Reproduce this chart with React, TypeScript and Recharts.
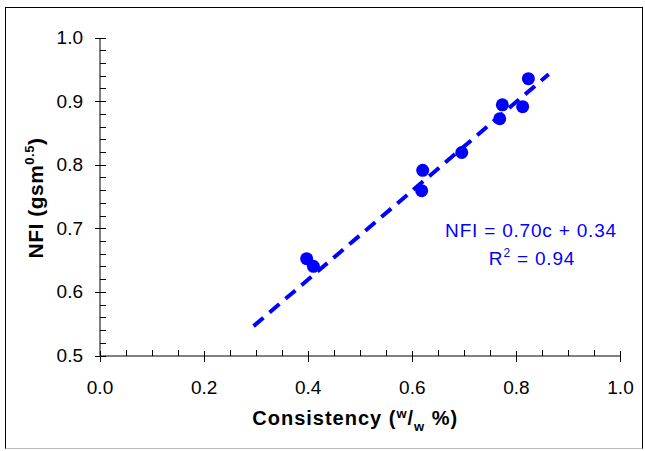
import { ScatterChart, Scatter, XAxis, YAxis, Customized } from "recharts"

// ─── Style ─────────────────────────────────────────────────────────────────────

const FONT = '"Liberation Sans", Arial, Helvetica, sans-serif'
const BLUE = "#0000ff"

// ─── Data ──────────────────────────────────────────────────────────────────────

// consistency (w/w %) and NFI
const CONSISTENCY = [0.397, 0.41, 0.618, 0.62, 0.695, 0.768, 0.773, 0.812, 0.823]
const NFI = [0.653, 0.641, 0.76, 0.792, 0.82, 0.873, 0.895, 0.892, 0.936]

// fitted line ends: NFI = 0.70c + 0.34
const TREND_X = [0.295, 0.862]
const TREND_Y = [0.547, 0.943]

const X_MAJOR = [0, 0.2, 0.4, 0.6, 0.8, 1.0]
const X_TICKS = [
    0, 0.05, 0.1, 0.15, 0.2, 0.25, 0.3, 0.35, 0.4, 0.45, 0.5,
    0.55, 0.6, 0.65, 0.7, 0.75, 0.8, 0.85, 0.9, 0.95, 1.0,
]
const Y_MAJOR = [0.5, 0.6, 0.7, 0.8, 0.9, 1.0]
const Y_TICKS = [
    0.5, 0.52, 0.54, 0.56, 0.58, 0.6, 0.62, 0.64, 0.66, 0.68, 0.7, 0.72, 0.74,
    0.76, 0.78, 0.8, 0.82, 0.84, 0.86, 0.88, 0.9, 0.92, 0.94, 0.96, 0.98, 1.0,
]

const EQUATION = "NFI = 0.70c + 0.34"
const R_SQUARED = "0.94"

const points = CONSISTENCY.map((c, i) => ({ x: c, y: NFI[i] }))
const trend = TREND_X.map((c, i) => ({ x: c, y: TREND_Y[i] }))

// ─── Ticks ─────────────────────────────────────────────────────────────────────

const isMajor = (v: number, majors: number[]) =>
    majors.some((m) => Math.abs(m - v) < 1e-6)

function XTick({ x, y, payload }: any) {
    const v = payload.value as number
    if (!isMajor(v, X_MAJOR)) {
        return <line x1={x} x2={x} y1={y} y2={y - 6} stroke="#000" shapeRendering="crispEdges" />
    }
    return (
        <g>
            <line x1={x} x2={x} y1={y - 5} y2={y + 6} stroke="#000" shapeRendering="crispEdges" />
            <text x={x} y={y + 38} textAnchor="middle" fontSize={19} fontFamily={FONT} fill="#000">
                {v.toFixed(1)}
            </text>
        </g>
    )
}

function YTick({ x, y, payload }: any) {
    const v = payload.value as number
    if (!isMajor(v, Y_MAJOR)) {
        return <line x1={x} x2={x + 6} y1={y} y2={y} stroke="#000" shapeRendering="crispEdges" />
    }
    return (
        <g>
            <line x1={x - 5} x2={x + 6} y1={y} y2={y} stroke="#000" shapeRendering="crispEdges" />
            <text x={x - 17} y={y + 6} textAnchor="end" fontSize={19} fontFamily={FONT} fill="#000">
                {v.toFixed(1)}
            </text>
        </g>
    )
}

// ─── Axis titles ───────────────────────────────────────────────────────────────

function XTitle(props: any) {
    const vb = props.viewBox ?? { x: 100, y: 356, width: 520.5 }
    return (
        <text
            x={vb.x + vb.width / 2 - 5}
            y={vb.y + 69}
            textAnchor="middle"
            fontFamily={FONT}
            fontSize={20}
            fontWeight="bold"
            letterSpacing={1}
            fill="#000"
        >
            Consistency (
            <tspan fontSize={13} dy={-7}>w</tspan>
            <tspan fontSize={20} dy={7}>/</tspan>
            <tspan fontSize={13} dy={6}>w</tspan>
            <tspan fontSize={20} dy={-6}> %)</tspan>
        </text>
    )
}

function YTitle(props: any) {
    const vb = props.viewBox ?? { x: 40, y: 38, height: 318 }
    const cx = vb.x + 3
    const cy = vb.y + vb.height / 2 + 1
    return (
        <text
            x={cx}
            y={cy}
            transform={`rotate(-90 ${cx} ${cy})`}
            textAnchor="middle"
            fontFamily={FONT}
            fontSize={21}
            fontWeight="bold"
            letterSpacing={0.5}
            fill="#000"
        >
            NFI (gsm
            <tspan fontSize={13} dy={-9}>0.5</tspan>
            <tspan fontSize={21} dy={9}>)</tspan>
        </text>
    )
}

// ─── Equation ──────────────────────────────────────────────────────────────────

function Equation() {
    return (
        <g fontFamily={FONT} fontSize={19} fill={BLUE} letterSpacing={0.8}>
            <text x={531} y={236.5} textAnchor="middle">{EQUATION}</text>
            <text x={532} y={265} textAnchor="middle">
                R<tspan fontSize={12} dy={-8}>2</tspan>
                <tspan fontSize={19} dy={8}> = {R_SQUARED}</tspan>
            </text>
        </g>
    )
}

const Dot = ({ cx, cy }: any) => <circle cx={cx} cy={cy} r={6.5} fill={BLUE} />
const NoDot = () => <g />

// ─── Component ─────────────────────────────────────────────────────────────────

export default function App() {
    return (
        <div style={{ position: "absolute", left: 0, top: 0, width: 645, height: 451, background: "#fff" }}>
            <div
                style={{
                    position: "absolute",
                    left: 5,
                    top: 7,
                    width: 636,
                    height: 440,
                    borderTop: "1px solid #000",
                    borderLeft: "1px solid #000",
                    borderRight: "1px solid #000",
                    borderBottom: "1px solid #bbb",
                }}
            />
            <div style={{ position: "absolute", left: 0, top: 0 }}>
                <ScatterChart
                    width={645}
                    height={451}
                    margin={{ top: 38, right: 24.5, bottom: 35, left: 40 }}
                >
                    <XAxis
                        type="number"
                        dataKey="x"
                        domain={[0, 1]}
                        ticks={X_TICKS}
                        interval={0}
                        height={60}
                        tickSize={0}
                        tickMargin={0}
                        tickLine={false}
                        tick={XTick}
                        axisLine={{ stroke: "#000", strokeWidth: 1 }}
                        label={{ content: XTitle }}
                    />
                    <YAxis
                        type="number"
                        dataKey="y"
                        domain={[0.5, 1]}
                        ticks={Y_TICKS}
                        interval={0}
                        width={60}
                        tickSize={0}
                        tickMargin={0}
                        tickLine={false}
                        tick={YTick}
                        axisLine={{ stroke: "#000", strokeWidth: 1 }}
                        label={{ content: YTitle }}
                    />
                    <Scatter data={points} fill={BLUE} shape={Dot} isAnimationActive={false} />
                    <Scatter
                        data={trend}
                        fill={BLUE}
                        shape={NoDot}
                        line={{ stroke: BLUE, strokeWidth: 4, strokeDasharray: "13 8" }}
                        isAnimationActive={false}
                    />
                    <Customized component={Equation} />
                </ScatterChart>
            </div>
        </div>
    )
}
